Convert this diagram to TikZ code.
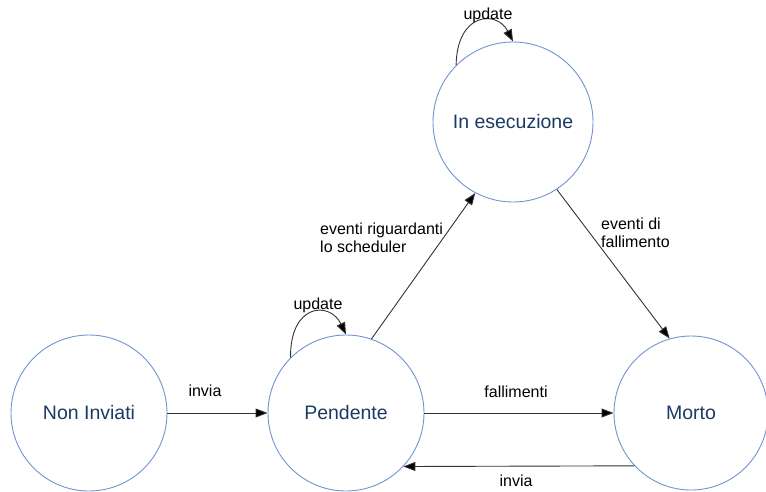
\documentclass[tikz,border=0pt]{standalone}
\usepackage{fontspec}
\setmainfont{Liberation Sans}
\usetikzlibrary{arrows.meta}
\definecolor{ringblue}{HTML}{7094CF}
\definecolor{statetext}{HTML}{1B3A63}
\definecolor{edgegray}{HTML}{333333}
\tikzset{
  state/.style={circle, draw=ringblue, line width=0.9pt, inner sep=0pt,
    text=statetext, font=\fontsize{19.5}{23}\selectfont},
  trans/.style={draw=edgegray, line width=0.9pt,
    -{Triangle[length=12pt,width=9pt,fill=black]}},
  tlabel/.style={font=\fontsize{16}{18}\selectfont, text=black, inner sep=0pt}
}
\begin{document}
\begin{tikzpicture}[x=1pt,y=-1pt]
\useasboundingbox (0,0) rectangle (766,491);
% states
\node[state, minimum size=156pt] (ni) at (89,413) {Non Inviati};
\node[state, minimum size=156pt] (pend) at (346,413) {Pendente};
\node[state, minimum size=160pt] (esec) at (513,122) {In esecuzione};
\node[state, minimum size=154pt] (morto) at (691,413) {Morto};
% transitions
\draw[trans] (ni) -- (pend);
\draw[trans] (pend) -- (morto);
\draw[trans] (morto.223.5) -- (pend.317.2);
\draw[trans] (pend.71.6) -- (esec.242.2);
\draw[trans] (esec.303.3) -- (morto.106.1);
% self loops
\draw[trans] (esec.135.5) .. controls (457,12) and (497,10) .. (esec.90);
\draw[trans] (pend.135.5) .. controls (290,303) and (330,301) .. (pend.90);
% labels
\node[tlabel] (l1) at (488,15) {update};
\node[tlabel] (l2) at (318,305) {update};
\node[tlabel] (l3) at (205,391) {invia};
\node[tlabel] (l4) at (516,392) {fallimenti};
\node[tlabel] (l5) at (516,481) {invia};
\node[tlabel, anchor=west, align=left] (l6) at (320,238) {eventi riguardanti\\lo scheduler};
\node[tlabel, anchor=west, align=left] (l7) at (601,233) {eventi di\\fallimento};
\end{tikzpicture}
\end{document}
